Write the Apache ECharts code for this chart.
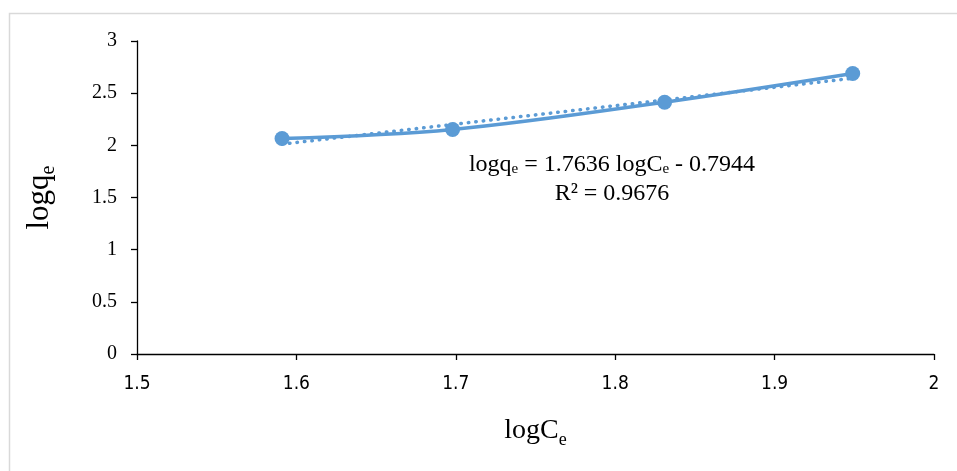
<!DOCTYPE html>
<html>
<head>
<meta charset="utf-8">
<script src="https://cdn.jsdelivr.net/npm/echarts@6/dist/echarts.min.js"></script>
<style>html,body{margin:0;padding:0;background:#fff}#c{width:957px;height:471px}</style>
</head>
<body>
<div id="c"></div>
<script>
var logCe = [1.591, 1.698, 1.831, 1.949];
var logQe = [2.065, 2.152, 2.413, 2.688];
var slope = 1.7636, intercept = -0.7944;
var xTicks = [1.5, 1.6, 1.7, 1.8, 1.9, 2];
var yTicks = [0, 0.5, 1, 1.5, 2, 2.5, 3];

var pts = logCe.map(function (x, i) { return [x, logQe[i]]; });
var xs0 = logCe[0], xs1 = logCe[logCe.length - 1];
var trend = [[xs0, slope * xs0 + intercept], [xs1, slope * xs1 + intercept]];
var blue = '#5B9BD5';
var serif = '"Liberation Serif","Times New Roman",serif';
var narrow = '"Liberation Sans Narrow","DejaVu Sans Condensed",sans-serif';

var chart = echarts.init(document.getElementById('c'));
chart.setOption({
  animation: false,
  backgroundColor: '#fff',
  grid: { left: 137, right: 23, top: 41, bottom: 117, containLabel: false },
  xAxis: {
    type: 'value', min: 1.5, max: 2, interval: 0.1,
    splitLine: { show: false },
    axisLine: { show: true, onZero: false, lineStyle: { color: '#000', width: 1.3 } },
    axisTick: { show: true, length: 6, lineStyle: { color: '#000', width: 1.3 } },
    axisLabel: { margin: 21, color: '#000', fontFamily: narrow, fontSize: 19,
      formatter: function (v) { return String(Math.round(v * 10) / 10); } },
    name: 'logC{s|e}', nameLocation: 'middle', nameGap: 59,
    nameTextStyle: { color: '#000', fontFamily: serif, fontSize: 28,
      rich: { s: { fontFamily: serif, fontSize: 18, verticalAlign: 'bottom', padding: [18, 0, 0, 0] } } }
  },
  yAxis: {
    type: 'value', min: 0, max: 3, interval: 0.5,
    splitLine: { show: false },
    axisLine: { show: true, lineStyle: { color: '#000', width: 1.3 } },
    axisTick: { show: true, length: 6, lineStyle: { color: '#000', width: 1.3 } },
    axisLabel: { margin: 20, color: '#000', fontFamily: serif, fontSize: 20 },
    name: 'logq{s|e}', nameLocation: 'middle', nameGap: 78, nameRotate: 90,
    nameTextStyle: { color: '#000', fontFamily: serif, fontSize: 31,
      rich: { s: { fontFamily: serif, fontSize: 20, verticalAlign: 'bottom', padding: [18, 0, 0, 0] } } }
  },
  series: [
    {
      type: 'line', data: trend, symbol: 'none', silent: true, z: 1,
      lineStyle: { color: blue, width: 3.5, type: [0.5, 7], cap: 'round' }
    },
    {
      type: 'line', data: pts, smooth: 0.35, symbol: 'circle', symbolSize: 15, z: 2,
      itemStyle: { color: blue },
      lineStyle: { color: blue, width: 3.5 }
    }
  ],
  graphic: [
    { type: 'rect', left: 7, top: 11, shape: { width: 1000, height: 500 }, silent: true,
      style: { fill: 'none', stroke: '#d9d9d9', lineWidth: 1.5 } },
    { type: 'text', x: 612, y: 165,
      style: {
        text: 'logq{s|e} = 1.7636 logC{s|e} - 0.7944',
        font: '24px ' + serif, fill: '#000', align: 'center', verticalAlign: 'middle',
        rich: { s: { font: '15px ' + serif, fill: '#000', padding: [9, 0, 0, 0] } }
      } },
    { type: 'text', x: 612, y: 194,
      style: { text: 'R² = 0.9676', font: '24px ' + serif, fill: '#000', align: 'center', verticalAlign: 'middle' } }
  ]
});
</script>
</body>
</html>
